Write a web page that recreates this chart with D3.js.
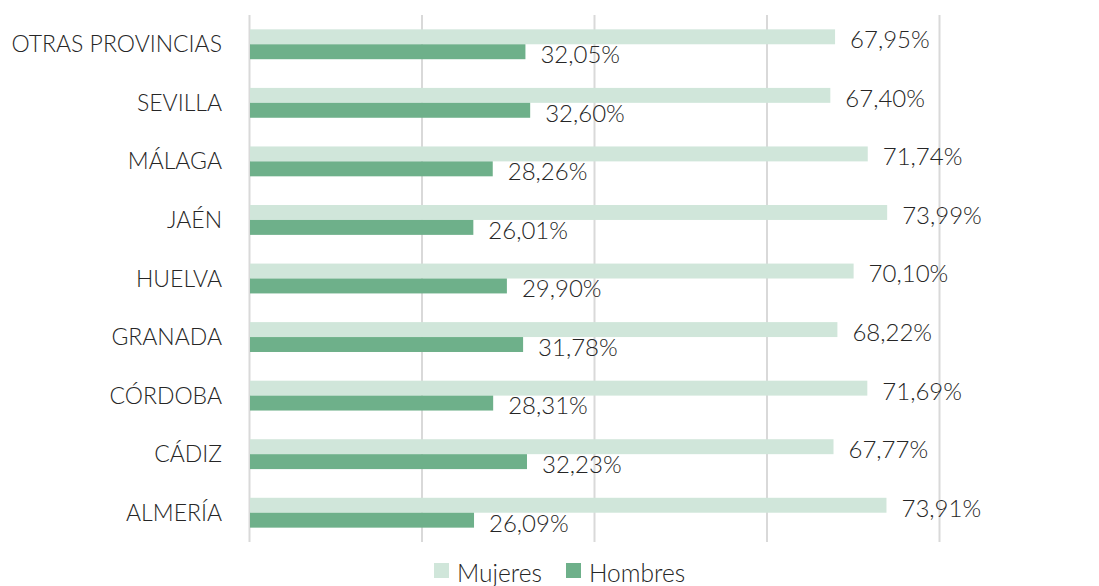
<!DOCTYPE html>
<html><head><meta charset="utf-8">
<script src="https://cdn.jsdelivr.net/npm/d3@7"></script>
<style>body{margin:0;background:#fff;}svg{display:block;font-family:"Lato","Open Sans",sans-serif;font-weight:300;}</style>
</head><body><svg id="c" width="1099" height="586"></svg>
<script>
const categories = ["OTRAS PROVINCIAS","SEVILLA","MÁLAGA","JAÉN","HUELVA","GRANADA","CÓRDOBA","CÁDIZ","ALMERÍA"];
const mujeres = [67.95, 67.40, 71.74, 73.99, 70.10, 68.22, 71.69, 67.77, 73.91];
const hombres = [32.05, 32.60, 28.26, 26.01, 29.90, 31.78, 28.31, 32.23, 26.09];
const seriesNames = ["Mujeres","Hombres"];
const gridTicks = [0,20,40,60,80];
const colors = ["#d0e6da","#6eb08a"];

const svg = d3.select("#c");
const x = d3.scaleLinear().domain([0,80]).range([249,939]);
const y = d3.scaleBand().domain(categories).range([15,542]).paddingInner(0.49).paddingOuter(0.245);
const sub = d3.scaleBand().domain(seriesNames).range([0,y.bandwidth()]);
const fmt = v => d3.format(".2f")(v).replace(".",",") + "%";

svg.append("g").selectAll("line").data(gridTicks).join("line")
  .attr("x1",d=>x(d)+0.5).attr("x2",d=>x(d)+0.5).attr("y1",15).attr("y2",542)
  .attr("stroke","#d9d9d9").attr("stroke-width",2);

const rows = categories.map((c,i)=>({c, vals:[mujeres[i],hombres[i]]}));
const g = svg.append("g");
rows.forEach(r=>{
  r.vals.forEach((v,j)=>{
    const yy = y(r.c)+sub(seriesNames[j]);
    g.append("rect").attr("x",x(0)+1).attr("y",yy).attr("width",x(v)-x(0)-1).attr("height",sub.bandwidth()).attr("fill",colors[j]);
    g.append("text").attr("x",x(v)+15).attr("y",yy+sub.bandwidth()/2+3).attr("dy","0.35em")
      .attr("font-size",24).attr("fill","#262626").text(fmt(v));
  });
  g.append("text").attr("x",222).attr("y",y(r.c)+y.bandwidth()/2).attr("dy","0.35em")
    .attr("text-anchor","end").attr("font-size",23).attr("fill","#262626").text(r.c);
});

const leg = svg.append("g");
const legX = [434,566];
seriesNames.forEach((s,j)=>{
  leg.append("rect").attr("x",legX[j]).attr("y",563).attr("width",15).attr("height",15).attr("fill",colors[j]);
  leg.append("text").attr("x",legX[j]+23).attr("y",573).attr("dy","0.35em").attr("font-size",24.5).attr("fill","#262626").text(s);
});
</script></body></html>
